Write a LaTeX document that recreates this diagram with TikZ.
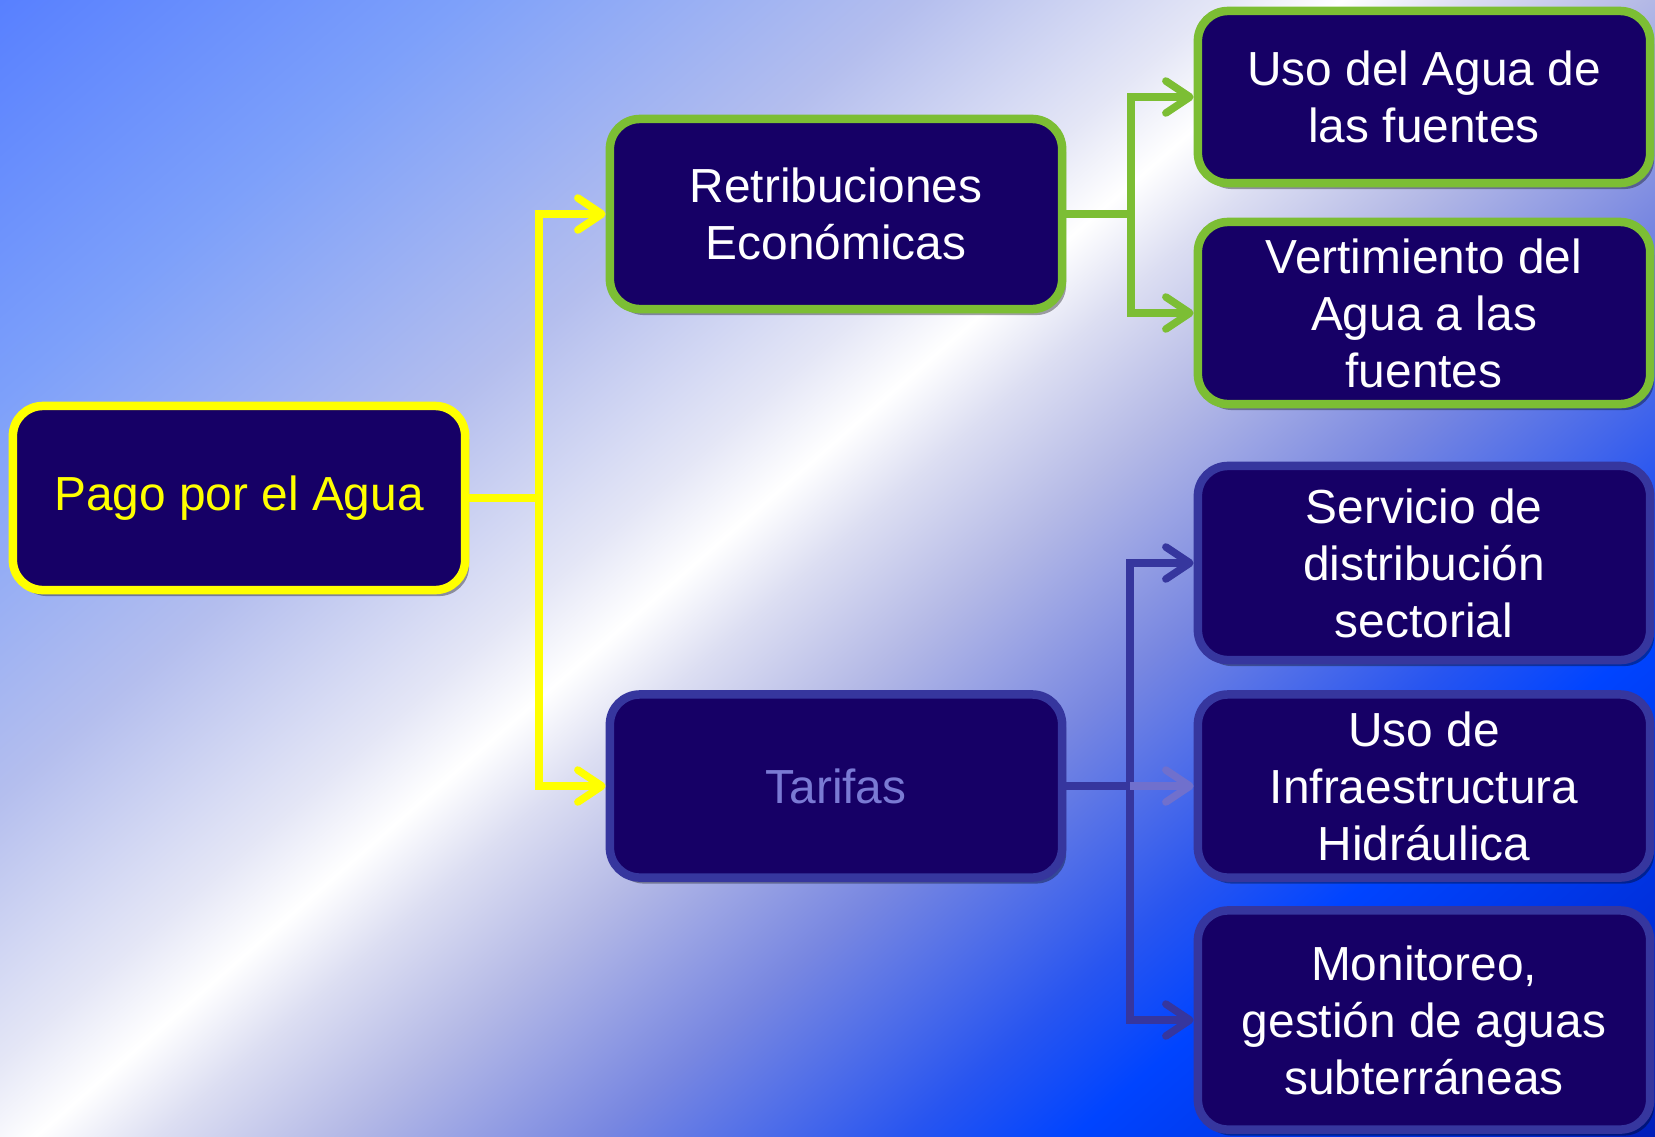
\documentclass[tikz,border=0pt]{standalone}
\usepackage{fontspec}
\setmainfont{Liberation Sans}
\usetikzlibrary{arrows.meta,shadows}
\definecolor{boxfill}{RGB}{22,0,102}
\definecolor{ylw}{RGB}{255,255,0}
\definecolor{grn}{RGB}{124,190,52}
\definecolor{blu}{RGB}{54,54,158}
\definecolor{bluetext}{RGB}{122,122,212}
\definecolor{bluelight}{RGB}{112,112,205}
\definecolor{bgA}{RGB}{88,128,255}
\definecolor{bgB}{RGB}{125,160,250}
\definecolor{bgC}{RGB}{180,190,238}
\definecolor{bgD}{RGB}{228,230,246}
\definecolor{bgE}{RGB}{255,255,255}
\definecolor{bgF}{RGB}{220,222,242}
\definecolor{bgG}{RGB}{180,185,230}
\definecolor{bgH}{RGB}{120,135,225}
\definecolor{bgI}{RGB}{40,85,240}
\definecolor{bgJ}{RGB}{0,68,255}
\definecolor{bgK}{RGB}{0,45,215}
\definecolor{bgL}{RGB}{0,30,185}
\pgfdeclarehorizontalshading{bgshade}{596bp}{color(0bp)=(bgA); color(8.5bp)=(bgA); color(93.54bp)=(bgB); color(178.58bp)=(bgC); color(235.27bp)=(bgD); color(257.95bp)=(bgE); color(280.63bp)=(bgF); color(314.64bp)=(bgG); color(362.83bp)=(bgH); color(419.52bp)=(bgI); color(450.7bp)=(bgJ); color(518.73bp)=(bgK); color(559.55bp)=(bgL); color(568bp)=(bgL)}
\begin{document}
\begin{tikzpicture}[x=0.01cm,y=-0.01cm,
  box/.style={rectangle, rounded corners=0.3cm, fill=boxfill, line width=0.085cm,
    inner sep=0pt, align=center, font=\fontsize{13.6pt}{16.2pt}\selectfont,
    text=white, minimum width=4.52cm,
    drop shadow={shadow xshift=0.04cm, shadow yshift=-0.06cm, opacity=0.35, fill=black}},
  conn/.style={line width=0.075cm},
  tip/.style={-{Straight Barb[length=0.24cm,width=0.32cm,round]}}]
\useasboundingbox (0,0) rectangle (1655,1136);
\begin{scope}
\clip (0,0) rectangle (1655,1136);
\pgftext[left,bottom,at={\pgfpoint{-6.229cm}{-5.022cm}},rotate=-49]{\pgfuseshading{bgshade}}
\end{scope}
% nodes
\node[box, draw=ylw, text=ylw, minimum height=1.84cm] (pago) at (239,498) {Pago por el Agua};
\node[box, draw=grn, minimum height=1.90cm] (retrib) at (836,214) {Retribuciones\\Económicas};
\node[box, draw=blu, text=bluetext, minimum height=1.83cm] (tarifas) at (836,786) {Tarifas};
\node[box, draw=grn, minimum height=1.72cm] (uso) at (1424,97) {Uso del Agua de\\las fuentes};
\node[box, draw=grn, minimum height=1.82cm] (vert) at (1424,313) {Vertimiento del\\Agua a las\\fuentes};
\node[box, draw=blu, minimum height=1.94cm] (serv) at (1424,563) {Servicio de\\distribución\\sectorial};
\node[box, draw=blu, minimum height=1.83cm] (infra) at (1424,786) {Uso de\\Infraestructura\\Hidráulica};
\node[box, draw=blu, minimum height=2.19cm] (moni) at (1424,1020) {Monitoreo,\\gestión de aguas\\subterráneas};
% connectors
\coordinate (jy) at (539,498);
\coordinate (jg) at (1131,214);
\coordinate (jb) at (1130,786);
\draw[conn, draw=ylw] (pago.east) -- (jy);
\draw[conn, draw=ylw, tip] (jy) |- (retrib.west);
\draw[conn, draw=ylw, tip] (jy) |- (tarifas.west);
\draw[conn, draw=grn] (retrib.east) -- (jg);
\draw[conn, draw=grn, tip] (jg) |- (uso.west);
\draw[conn, draw=grn, tip] (jg) |- (vert.west);
\draw[conn, draw=blu] (tarifas.east) -- (jb);
\draw[conn, draw=blu, tip] (jb) |- (serv.west);
\draw[conn, draw=blu, tip] (jb) |- (moni.west);
\draw[conn, draw=bluelight, tip] (jb) -- (infra.west);
\end{tikzpicture}
\end{document}
